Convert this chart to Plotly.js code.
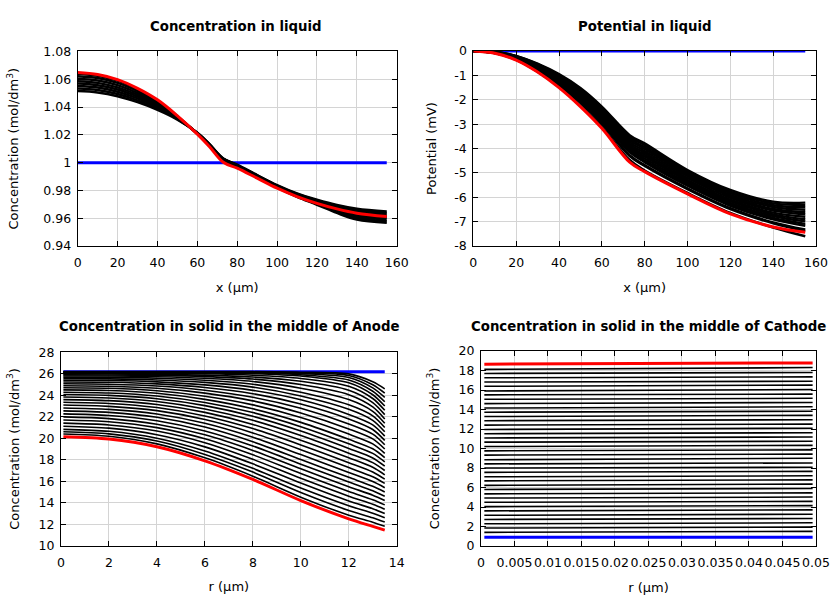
<!DOCTYPE html>
<html>
<head>
<meta charset="utf-8">
<script src="https://cdn.plot.ly/plotly-3.0.1.min.js"></script>
<style>html,body{margin:0;padding:0;background:#fff}#chart{width:840px;height:600px}</style>
</head>
<body>
<div id="chart"></div>
<script>
// ---------- Panel 1: Concentration in liquid ----------
const liqX = [0, 10, 20, 30, 40, 50, 60, 66, 73, 80, 90, 100, 110, 120, 130, 140, 155];
const liqInitial = [1, 1, 1, 1, 1, 1, 1, 1, 1, 1, 1, 1, 1, 1, 1, 1, 1];
const liqFinal = [1.0649, 1.0635, 1.0598, 1.0535, 1.0452, 1.0337, 1.0205, 1.0116, 1.0003, 0.996, 0.9888, 0.9816, 0.9756, 0.9707, 0.9667, 0.9636, 0.9612];
const liqSteps = [
  [1.0515, 1.0505, 1.0478, 1.0435, 1.038, 1.031, 1.0215, 1.0135, 1.003, 0.9985, 0.991, 0.9838, 0.9778, 0.9733, 0.9695, 0.9668, 0.9648],
  [1.0533, 1.0522, 1.0494, 1.0448, 1.039, 1.0314, 1.0214, 1.0133, 1.0028, 0.9983, 0.9908, 0.9835, 0.9775, 0.9728, 0.9687, 0.9657, 0.9637],
  [1.0551, 1.054, 1.051, 1.0462, 1.0399, 1.0317, 1.0213, 1.0131, 1.0027, 0.9981, 0.9905, 0.9833, 0.9771, 0.9723, 0.9679, 0.9646, 0.9625],
  [1.0569, 1.0557, 1.0526, 1.0475, 1.0409, 1.0321, 1.0212, 1.0129, 1.0025, 0.9979, 0.9903, 0.983, 0.9768, 0.9718, 0.9671, 0.9635, 0.9614],
  [1.0586, 1.0574, 1.0542, 1.0488, 1.0418, 1.0324, 1.021, 1.0128, 1.0023, 0.9976, 0.99, 0.9828, 0.9764, 0.9712, 0.9662, 0.9623, 0.9603],
  [1.0604, 1.0591, 1.0558, 1.0501, 1.0428, 1.0328, 1.0209, 1.0126, 1.0021, 0.9974, 0.9898, 0.9825, 0.9761, 0.9707, 0.9654, 0.9612, 0.9591],
  [1.0622, 1.0609, 1.0574, 1.0515, 1.0437, 1.0331, 1.0208, 1.0124, 1.002, 0.9972, 0.9895, 0.9823, 0.9757, 0.9702, 0.9646, 0.9601, 0.9579],
  [1.064, 1.0626, 1.059, 1.0528, 1.0447, 1.0335, 1.0207, 1.0122, 1.0018, 0.997, 0.9893, 0.982, 0.9754, 0.9697, 0.9638, 0.959, 0.9568]
];

// ---------- Panel 2: Potential in liquid ----------
const potX = [0, 10, 20, 30, 40, 50, 60, 73, 80, 100, 120, 140, 155];
const potInitial = [0, 0, 0, 0, 0, 0, 0, 0, 0, 0, 0, 0, 0];
const potFinal = [0, -0.09, -0.37, -0.86, -1.5, -2.28, -3.17, -4.56, -4.95, -5.86, -6.68, -7.22, -7.44];
const potSteps = [
  [0, -0.03, -0.2, -0.52, -0.95, -1.52, -2.28, -3.45, -3.79, -4.88, -5.7, -6.18, -6.22],
  [0, -0.03, -0.21, -0.54, -0.99, -1.57, -2.34, -3.52, -3.87, -4.95, -5.77, -6.25, -6.32],
  [0, -0.04, -0.22, -0.57, -1.02, -1.62, -2.4, -3.59, -3.95, -5.01, -5.83, -6.33, -6.41],
  [0, -0.04, -0.23, -0.59, -1.06, -1.67, -2.46, -3.66, -4.02, -5.08, -5.9, -6.4, -6.51],
  [0, -0.05, -0.25, -0.61, -1.1, -1.72, -2.52, -3.74, -4.1, -5.14, -5.96, -6.48, -6.61],
  [0, -0.05, -0.26, -0.64, -1.14, -1.78, -2.57, -3.81, -4.18, -5.21, -6.03, -6.55, -6.7],
  [0, -0.06, -0.27, -0.66, -1.17, -1.83, -2.63, -3.88, -4.26, -5.28, -6.1, -6.63, -6.8],
  [0, -0.06, -0.28, -0.68, -1.21, -1.88, -2.69, -3.95, -4.33, -5.34, -6.16, -6.7, -6.9],
  [0, -0.06, -0.29, -0.71, -1.25, -1.93, -2.75, -4.02, -4.41, -5.41, -6.23, -6.77, -6.99],
  [0, -0.07, -0.3, -0.73, -1.28, -1.98, -2.81, -4.09, -4.49, -5.47, -6.29, -6.85, -7.09],
  [0, -0.07, -0.31, -0.75, -1.32, -2.02, -2.86, -4.15, -4.56, -5.53, -6.35, -6.91, -7.17],
  [0, -0.08, -0.33, -0.78, -1.37, -2.1, -2.95, -4.27, -4.68, -5.63, -6.45, -7.03, -7.32],
  [0, -0.08, -0.33, -0.8, -1.4, -2.13, -2.99, -4.31, -4.72, -5.67, -6.49, -7.07, -7.38],
  [0, -0.09, -0.36, -0.85, -1.48, -2.25, -3.12, -4.47, -4.9, -5.82, -6.64, -7.24, -7.6]
];
const potTickVals = [-8, -7, -6, -5, -4, -3, -2, -1, 0];
const potTickText = ['-8', '-7', '-6', '-5', '-4', '-3', '-2', '-1', '0'];

// ---------- Panel 3: Anode solid concentration ----------
const anodeR = [0.1, 2, 4, 6, 8, 10, 12, 13, 13.5];
const anodeInitial = [26.2, 26.2, 26.2, 26.2, 26.2, 26.2, 26.2, 26.2, 26.2];
const anodeFinal = [20.14, 19.93, 19.21, 17.9, 16.17, 14.2, 12.5, 11.8, 11.45];
const anodeSteps = [
  [26.2, 26.2, 26.2, 26.2, 26.2, 26.15, 25.99, 25.26, 24.6],
  [26.19, 26.19, 26.19, 26.19, 26.17, 26.09, 25.85, 24.98, 24.2],
  [26.17, 26.17, 26.17, 26.16, 26.13, 26.02, 25.66, 24.69, 23.8],
  [26.14, 26.14, 26.14, 26.13, 26.08, 25.91, 25.43, 24.38, 23.4],
  [26.1, 26.1, 26.1, 26.08, 26.01, 25.79, 25.17, 24.05, 23.0],
  [26.05, 26.05, 26.04, 26.0, 25.87, 25.57, 24.84, 23.7, 22.6],
  [25.98, 25.98, 25.95, 25.88, 25.7, 25.3, 24.47, 23.32, 22.2],
  [25.9, 25.89, 25.85, 25.74, 25.51, 25.0, 24.06, 22.92, 21.8],
  [25.8, 25.79, 25.73, 25.58, 25.28, 24.66, 23.6, 22.51, 21.4],
  [25.68, 25.67, 25.59, 25.4, 25.03, 24.28, 23.11, 22.08, 21.0],
  [25.55, 25.53, 25.43, 25.2, 24.76, 23.94, 22.7, 21.67, 20.6],
  [25.4, 25.37, 25.25, 24.97, 24.46, 23.58, 22.22, 21.25, 20.2],
  [25.24, 25.21, 25.06, 24.73, 24.15, 23.19, 21.8, 20.82, 19.8],
  [25.07, 25.03, 24.86, 24.47, 23.82, 22.79, 21.33, 20.38, 19.4],
  [24.89, 24.84, 24.65, 24.2, 23.48, 22.36, 20.87, 19.94, 19.0],
  [24.7, 24.65, 24.42, 23.91, 23.11, 21.93, 20.39, 19.48, 18.6],
  [24.5, 24.44, 24.19, 23.62, 22.74, 21.48, 19.9, 19.02, 18.2],
  [24.29, 24.22, 23.94, 23.33, 22.39, 21.08, 19.48, 18.59, 17.8],
  [24.07, 23.99, 23.68, 23.04, 22.04, 20.67, 19.05, 18.17, 17.4],
  [23.84, 23.75, 23.42, 22.73, 21.67, 20.25, 18.61, 17.73, 17.0],
  [23.6, 23.5, 23.15, 22.41, 21.29, 19.82, 18.18, 17.3, 16.6],
  [23.35, 23.24, 22.86, 22.08, 20.9, 19.38, 17.73, 16.86, 16.2],
  [23.09, 22.97, 22.57, 21.74, 20.5, 18.94, 17.27, 16.42, 15.8],
  [22.82, 22.69, 22.26, 21.39, 20.09, 18.48, 16.82, 15.97, 15.4],
  [22.55, 22.41, 21.95, 21.04, 19.68, 18.02, 16.36, 15.53, 15.0],
  [22.27, 22.12, 21.63, 20.68, 19.28, 17.59, 15.93, 15.11, 14.6],
  [21.99, 21.83, 21.31, 20.32, 18.87, 17.16, 15.49, 14.7, 14.2],
  [21.7, 21.54, 20.99, 19.95, 18.46, 16.72, 15.05, 14.28, 13.8],
  [21.41, 21.24, 20.67, 19.58, 18.04, 16.27, 14.61, 13.86, 13.4],
  [21.12, 20.94, 20.33, 19.2, 17.62, 15.83, 14.16, 13.45, 13.0],
  [20.83, 20.65, 20.01, 18.82, 17.2, 15.37, 13.72, 13.02, 12.6],
  [20.6, 20.41, 19.74, 18.49, 16.85, 14.95, 13.28, 12.6, 12.2],
  [20.4, 20.19, 19.48, 18.18, 16.47, 14.52, 12.84, 12.19, 11.8]
];

// ---------- Panel 4: Cathode solid concentration ----------
const cathR = [0.0005, 0.025, 0.0495];
const cathInitial = [0.9, 0.9, 0.9];
const cathFinal = [18.65, 18.68, 18.78];
const cathSteps = [
  [18.12, 18.2, 18.3], [17.7, 17.72, 17.8], [17.25, 17.3, 17.35], [16.82, 16.85, 16.9],
  [16.38, 16.45, 16.5], [15.9, 15.98, 16.05], [15.5, 15.52, 15.58], [15.05, 15.1, 15.15],
  [14.6, 14.65, 14.72], [14.15, 14.2, 14.28], [13.72, 13.78, 13.82], [13.28, 13.32, 13.4],
  [12.85, 12.88, 12.95], [12.4, 12.45, 12.5], [11.95, 12.02, 12.08], [11.52, 11.55, 11.62],
  [11.08, 11.12, 11.18], [10.65, 10.7, 10.75], [10.2, 10.25, 10.32], [9.76, 9.8, 9.86],
  [9.32, 9.35, 9.42], [8.85, 8.9, 9.0], [8.42, 8.46, 8.52], [8.0, 8.02, 8.08],
  [7.55, 7.58, 7.65], [7.1, 7.14, 7.2], [6.68, 6.72, 6.78], [6.22, 6.28, 6.35],
  [5.8, 5.84, 5.9], [5.35, 5.4, 5.45], [4.92, 4.95, 5.02], [4.48, 4.52, 4.58],
  [4.04, 4.08, 4.14], [3.6, 3.64, 3.7], [3.15, 3.2, 3.26], [2.72, 2.76, 2.82],
  [2.28, 2.32, 2.38], [1.84, 1.88, 1.94], [1.4, 1.44, 1.5]
];

// ---------- Text ----------
const panelTitles = [
  'Concentration in liquid',
  'Potential in liquid',
  'Concentration in solid in the middle of Anode',
  'Concentration in solid in the middle of Cathode'
];
const xTitles = ['x (µm)', 'x (µm)', 'r (µm)', 'r (µm)'];
const yTitles = ['Concentration (mol/dm<sup>3</sup>)', 'Potential (mV)', 'Concentration (mol/dm<sup>3</sup>)', 'Concentration (mol/dm<sup>3</sup>)'];

const FONT = 'DejaVu Sans, sans-serif';
const BLUE = '#0000ff', RED = '#ff0000', BLACK = '#000000';

function panelTraces(x, initial, steps, final, xa, ya, shape, smooth, wBlack) {
  const t = [];
  t.push({x: x, y: initial, xaxis: xa, yaxis: ya, mode: 'lines', line: {color: BLUE, width: 3}, hoverinfo: 'skip'});
  steps.forEach(s => t.push({x: x, y: s, xaxis: xa, yaxis: ya, mode: 'lines',
    line: {color: BLACK, width: wBlack, shape: shape, smoothing: smooth}, hoverinfo: 'skip'}));
  t.push({x: x, y: final, xaxis: xa, yaxis: ya, mode: 'lines', line: {color: RED, width: 3, shape: shape, smoothing: smooth}, hoverinfo: 'skip'});
  return t;
}

const data = [].concat(
  panelTraces(liqX, liqInitial, liqSteps, liqFinal, 'x', 'y', 'spline', 1, 2.5),
  panelTraces(potX, potInitial, potSteps, potFinal, 'x2', 'y2', 'spline', 1, 2.4),
  panelTraces(anodeR, anodeInitial, anodeSteps, anodeFinal, 'x3', 'y3', 'spline', 0.8, 1.6),
  panelTraces(cathR, cathInitial, cathSteps, cathFinal, 'x4', 'y4', 'linear', 0, 1.6)
);

function ax(extra) {
  return Object.assign({
    showline: true, linecolor: 'black', linewidth: 1, mirror: 'ticks',
    ticks: 'inside', ticklen: 5, tickcolor: 'black', tickwidth: 1,
    showgrid: true, gridcolor: '#d4d4d4', gridwidth: 1, zeroline: false,
    tickfont: {family: FONT, size: 12.5, color: 'black'}, automargin: false,
    tickangle: 0
  }, extra);
}
function ttl(text, standoff) {
  return {text: text, font: {family: FONT, size: 13, color: 'black'}, standoff: standoff};
}

const layout = {
  width: 840, height: 600,
  margin: {l: 0, r: 0, t: 0, b: 0},
  paper_bgcolor: 'white', plot_bgcolor: 'white',
  showlegend: false,
  font: {family: FONT, size: 13, color: 'black'},
  xaxis: ax({domain: [0.0925, 0.4723], range: [0, 160], dtick: 20, tick0: 0, anchor: 'y', ticklabelstandoff: 5, title: ttl(xTitles[0], 13)}),
  yaxis: ax({domain: [0.59, 0.9142], range: [0.94, 1.08], dtick: 0.02, tick0: 0.94, anchor: 'x', ticklabelstandoff: 3, title: ttl(yTitles[0], 21)}),
  xaxis2: ax({domain: [0.5635, 0.9714], range: [0, 160], dtick: 20, tick0: 0, anchor: 'y2', ticklabelstandoff: 5, title: ttl(xTitles[1], 13)}),
  yaxis2: ax({domain: [0.59, 0.915], range: [-8, 0], tickvals: potTickVals, ticktext: potTickText, anchor: 'x2', ticklabelstandoff: 3, title: ttl(yTitles[1], 14)}),
  xaxis3: ax({domain: [0.0726, 0.4723], range: [0, 14], dtick: 2, tick0: 0, anchor: 'y3', ticklabelstandoff: 5, title: ttl(xTitles[2], 13)}),
  yaxis3: ax({domain: [0.0905, 0.4128], range: [10, 28], dtick: 2, tick0: 10, anchor: 'x3', ticklabelstandoff: 3, title: ttl(yTitles[2], 16)}),
  xaxis4: ax({domain: [0.5726, 0.9714], range: [0, 0.05], dtick: 0.005, tick0: 0, anchor: 'y4', ticklabelstandoff: 5, title: ttl(xTitles[3], 13)}),
  yaxis4: ax({domain: [0.09, 0.415], range: [0, 20], dtick: 2, tick0: 0, anchor: 'x4', ticklabelstandoff: 3, title: ttl(yTitles[3], 16)}),
  annotations: [
    {text: '<b>' + panelTitles[0] + '</b>', x: 236 / 840, y: 1 - 26 / 600},
    {text: '<b>' + panelTitles[1] + '</b>', x: 645 / 840, y: 1 - 26 / 600},
    {text: '<b>' + panelTitles[2] + '</b>', x: 229 / 840, y: 1 - 326 / 600},
    {text: '<b>' + panelTitles[3] + '</b>', x: 648 / 840, y: 1 - 326 / 600}
  ].map(a => Object.assign({xref: 'paper', yref: 'paper', xanchor: 'center', yanchor: 'middle', showarrow: false,
    font: {family: FONT, size: 13.3, color: 'black'}}, a))
};

Plotly.newPlot('chart', data, layout, {staticPlot: true, displayModeBar: false});
</script>
</body>
</html>
